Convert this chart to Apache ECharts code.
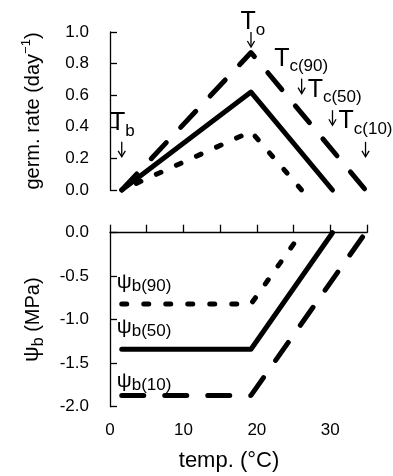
<!DOCTYPE html>
<html><head><meta charset="utf-8">
<script src="https://cdn.jsdelivr.net/npm/echarts@6/dist/echarts.min.js"></script>
<style>html,body{margin:0;padding:0;background:#fff}#c{width:393px;height:476px}</style>
</head><body><div id="c"></div>
<script>
// ---------------- data ----------------
const Tb = 1.6;                       // base temperature (°C)
const To = 19.2;                      // optimum temperature (°C)
const Tc = [26.1, 30.3, 34.8];        // ceiling temperatures for fractions 90, 50, 10
const fractions = ['90', '50', '10'];
const peakRate = [0.37, 0.62, 0.87];  // germination rate (day^-1) at To
const psiB = [-0.82, -1.34, -1.87];   // base water potential ψb (MPa) below To
const xTickValues = [0, 5, 10, 15, 20, 25, 30, 35];
const xLabelValues = [0, 10, 20, 30];
const rateTicks = [0, 0.2, 0.4, 0.6, 0.8, 1.0];
const psiTicks = [-2.0, -1.5, -1.0, -0.5, 0.0];

// ---------------- styling ----------------
const FONT = '"Liberation Sans", Arial, Helvetica, sans-serif';
const dashes = [[5, 17], 'solid', [22, 21]];
const topDashOffset = [6, 0, 0];
const ctx = document.createElement('canvas').getContext('2d');
function tw(t, s) { ctx.font = s + 'px ' + FONT; return ctx.measureText(t).width; }

const chart = echarts.init(document.getElementById('c'), null, {renderer: 'canvas'});
const axisCol = {color: '#000', width: 1.3};
const lbl = {color: '#000', fontSize: 17, fontFamily: FONT};

function lineSeries(xi, data, i, off) {
  return {
    type: 'line', xAxisIndex: xi, yAxisIndex: xi, data: data,
    symbol: 'none', showSymbol: false, clip: false, silent: true, animation: false,
    lineStyle: {color: '#000', width: 5, type: dashes[i], dashOffset: off || 0, cap: 'round', join: 'round'}
  };
}
const series = [];
for (let i = 0; i < 3; i++) {
  series.push(lineSeries(0, [[Tb, 0], [To, peakRate[i]], [Tc[i], 0]], i, topDashOffset[i]));
  series.push(lineSeries(1, [[Tb, psiB[i]], [To, psiB[i]], [Tc[i], 0]], i, 0));
}

chart.setOption({
  animation: false,
  backgroundColor: '#fff',
  grid: [
    {left: 110, right: 26, top: 32, height: 158},
    {left: 110, right: 26, top: 232.7, height: 174}
  ],
  xAxis: [
    {gridIndex: 0, type: 'value', min: 0, max: 35, show: false},
    {gridIndex: 1, type: 'value', min: 0, max: 35, interval: 5, offset: 6,
     axisLine: {lineStyle: axisCol},
     axisTick: {inside: true, length: 8, lineStyle: axisCol},
     splitLine: {show: false},
     axisLabel: Object.assign({margin: 9, formatter: v => xLabelValues.includes(v) ? String(v) : ''}, lbl),
     name: 'temp. (°C)', nameLocation: 'middle', nameGap: 37,
     nameTextStyle: {color: '#000', fontSize: 22, fontFamily: FONT, padding: [0, 19, 0, 0]}}
  ],
  yAxis: [
    {gridIndex: 0, type: 'value', min: rateTicks[0], max: rateTicks[rateTicks.length - 1], interval: 0.2, offset: 11,
     axisLine: {show: true, lineStyle: axisCol},
     axisTick: {show: true, inside: true, length: 7, lineStyle: axisCol},
     splitLine: {show: false},
     axisLabel: Object.assign({margin: 10, formatter: v => v.toFixed(1)}, lbl)},
    {gridIndex: 1, type: 'value', min: psiTicks[0], max: psiTicks[psiTicks.length - 1], interval: 0.5, offset: 11,
     axisLine: {show: true, lineStyle: axisCol},
     axisTick: {show: true, inside: true, length: 7, lineStyle: axisCol},
     splitLine: {show: false},
     axisLabel: Object.assign({margin: 10, formatter: v => v.toFixed(1)}, lbl)}
  ],
  series: series
});

// ---------------- annotations ----------------
const g = [];
// text placed by its alphabetic baseline (converted to a 'middle' anchor)
function txt(x, baseline, t, s) {
  return {type: 'text', x: x, y: baseline - 0.3465 * s, silent: true,
          style: {text: t, fontSize: s, fontFamily: FONT, fill: '#000', align: 'left', verticalAlign: 'middle'}};
}
function seq(x, y, segs) {
  const out = [];
  let cx = x;
  segs.forEach(s => { out.push(txt(cx, y + (s.dy || 0), s.t, s.s)); cx += tw(s.t, s.s); });
  return out;
}
function seqWidth(segs) { return segs.reduce((a, s) => a + tw(s.t, s.s), 0); }
function arrow(x, tipY) {
  const len = 15, hw = 3.6, hh = 6;
  return [
    {type: 'line', silent: true, shape: {x1: x, y1: tipY - len, x2: x, y2: tipY}, style: {stroke: '#000', lineWidth: 1.3}},
    {type: 'polyline', silent: true, shape: {points: [[x - hw, tipY - hh], [x, tipY], [x + hw, tipY - hh]]}, style: {stroke: '#000', lineWidth: 1.3, fill: null}}
  ];
}
function Tlabel(x, baseline, sub) {
  return seq(x, baseline, [{t: 'T', s: 25}, {t: sub, s: 17, dy: 5}]);
}
const P0 = p => chart.convertToPixel({gridIndex: 0}, p);
const P1 = p => chart.convertToPixel({gridIndex: 1}, p);

// T_b
let a = P0([Tb, 0.21]);
g.push(...arrow(a[0], a[1]));
g.push(...Tlabel(a[0] - 11.7, a[1] - 25, 'b'));
// T_o
a = P0([To, 0.905]);
g.push(...arrow(a[0], a[1]));
g.push(...Tlabel(a[0] - 10.5, a[1] - 16, 'o'));
// T_c arrows and labels
const tipRate = [0.61, 0.41, 0.21];
const tips = Tc.map((t, i) => P0([t, tipRate[i]]));
tips.forEach(p => g.push(...arrow(p[0], p[1])));
g.push(...Tlabel(tips[0][0] - 27.5, tips[0][1] - 26, 'c(' + fractions[0] + ')'));
g.push(...Tlabel(tips[0][0] + 6, tips[0][1] + 5, 'c(' + fractions[1] + ')'));
g.push(...Tlabel(tips[1][0] + 6, tips[1][1] + 5, 'c(' + fractions[2] + ')'));

// ψb labels
const psiLabelLift = [15, 15, 7];
for (let i = 0; i < 3; i++) {
  const p = P1([Tb, psiB[i]]);
  g.push(...seq(p[0] - 5, p[1] - psiLabelLift[i], [{t: 'ψ', s: 21}, {t: 'b(' + fractions[i] + ')', s: 17, dy: 3}]));
}

// rotated y-axis titles
function vtitle(cx, cy, segs) {
  const w = seqWidth(segs);
  return {type: 'group', x: cx, y: cy, rotation: Math.PI / 2, silent: true, children: seq(-w / 2, 7, segs)};
}
g.push(vtitle(33, 111, [{t: 'germ. rate (day', s: 20}, {t: '−1', s: 13, dy: -9}, {t: ')', s: 20}]));
g.push(vtitle(33, 319.7, [{t: 'ψ', s: 22}, {t: 'b', s: 16, dy: 4}, {t: ' (MPa)', s: 20}]));

chart.setOption({graphic: {elements: g}});
</script>
</body></html>
